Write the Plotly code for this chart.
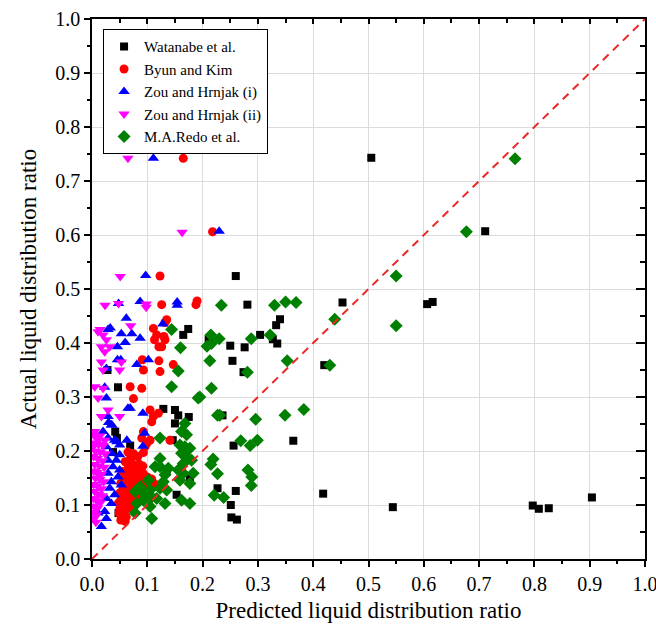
import plotly.graph_objects as go

# ---------------- data ----------------
wat_x = [0.505, 0.711, 0.606, 0.616, 0.544, 0.797, 0.808, 0.826, 0.904,
         0.26, 0.281, 0.453, 0.34, 0.333, 0.304, 0.327, 0.335, 0.25, 0.276, 0.211,
         0.254, 0.42, 0.274, 0.236, 0.364, 0.256, 0.227, 0.26, 0.418, 0.251, 0.252, 0.262,
         0.174, 0.165, 0.028, 0.047, 0.129, 0.15, 0.156, 0.175, 0.15, 0.146, 0.177, 0.153,
         0.042, 0.045, 0.069, 0.038, 0.048, 0.053, 0.135]
wat_y = [0.743, 0.607, 0.472, 0.476, 0.096, 0.099, 0.093, 0.094, 0.114,
         0.524, 0.471, 0.475, 0.444, 0.433, 0.415, 0.407, 0.399, 0.395, 0.392, 0.407,
         0.367, 0.359, 0.346, 0.266, 0.219, 0.21, 0.131, 0.126, 0.121, 0.1, 0.077, 0.073,
         0.426, 0.415, 0.35, 0.318, 0.278, 0.276, 0.266, 0.263, 0.251, 0.22, 0.149, 0.119,
         0.236, 0.224, 0.21, 0.198, 0.085, 0.079, 0.162]

byun_x = [0.165, 0.218, 0.123, 0.126, 0.19, 0.188, 0.135, 0.132, 0.111, 0.117, 0.113, 0.13,
          0.132, 0.126, 0.121, 0.091, 0.121, 0.147, 0.093, 0.123, 0.069, 0.09, 0.075, 0.105,
          0.111, 0.108, 0.12, 0.093, 0.09, 0.105, 0.141, 0.096, 0.099, 0.093,
          0.065, 0.075, 0.083, 0.07,
          0.06, 0.072, 0.085, 0.092, 0.066, 0.078,
          0.055, 0.064, 0.074, 0.083, 0.093, 0.1, 0.06, 0.07, 0.082, 0.09, 0.108,
          0.052, 0.062, 0.071, 0.08, 0.088, 0.097, 0.105, 0.056, 0.066, 0.076, 0.085, 0.094, 0.112,
          0.05, 0.06, 0.07, 0.079, 0.088, 0.098, 0.053, 0.064, 0.074, 0.084,
          0.048, 0.058, 0.068, 0.078, 0.05, 0.06, 0.072,
          0.049, 0.055, 0.062, 0.052, 0.06]
byun_y = [0.742, 0.606, 0.524, 0.471, 0.478, 0.471, 0.443, 0.438, 0.427, 0.415, 0.406, 0.412,
          0.406, 0.393, 0.393, 0.369, 0.367, 0.36, 0.35, 0.347, 0.319, 0.316, 0.297, 0.276,
          0.264, 0.254, 0.27, 0.236, 0.224, 0.22, 0.22, 0.208, 0.214, 0.197,
          0.198, 0.195, 0.19, 0.188,
          0.18, 0.178, 0.176, 0.172, 0.17, 0.168,
          0.162, 0.16, 0.158, 0.162, 0.158, 0.152, 0.15, 0.148, 0.15, 0.146, 0.148,
          0.14, 0.138, 0.136, 0.14, 0.134, 0.138, 0.132, 0.13, 0.128, 0.13, 0.126, 0.128, 0.14,
          0.122, 0.12, 0.118, 0.121, 0.116, 0.118, 0.112, 0.11, 0.108, 0.112,
          0.104, 0.1, 0.098, 0.102, 0.092, 0.09, 0.094,
          0.085, 0.08, 0.078, 0.072, 0.07]

zou1_x = [0.111, 0.23, 0.097, 0.048, 0.087, 0.154, 0.154, 0.128, 0.062, 0.033, 0.029, 0.053,
          0.072, 0.087, 0.06, 0.046, 0.046, 0.052, 0.081, 0.102, 0.026, 0.023, 0.026, 0.065,
          0.069, 0.092, 0.03, 0.036, 0.063, 0.045,
          0.029, 0.035, 0.02, 0.029, 0.041, 0.05, 0.026, 0.035, 0.05, 0.029, 0.044, 0.038,
          0.05, 0.029, 0.035, 0.047, 0.053, 0.032, 0.026, 0.041, 0.035, 0.023, 0.026, 0.011,
          0.017, 0.092, 0.095]
zou1_y = [0.742, 0.607, 0.525, 0.473, 0.477, 0.476, 0.47, 0.435, 0.446, 0.428, 0.425, 0.417,
          0.417, 0.409, 0.401, 0.393, 0.369, 0.369, 0.36, 0.369, 0.353, 0.318, 0.298, 0.279,
          0.279, 0.27, 0.253, 0.248, 0.22, 0.217,
          0.264, 0.248, 0.236, 0.224, 0.22, 0.211, 0.208, 0.196, 0.193, 0.183, 0.183, 0.171,
          0.165, 0.159, 0.143, 0.152, 0.137, 0.131, 0.112, 0.119, 0.103, 0.088, 0.075, 0.085,
          0.06, 0.209, 0.233]

zou2_x = [0.065, 0.163, 0.051, 0.0235, 0.048, 0.098, 0.098, 0.07, 0.0145,
          0.011, 0.02, 0.026, 0.017, 0.032, 0.023, 0.017, 0.02, 0.053, 0.05,
          0.005, 0.02, 0.011, 0.029, 0.017, 0.05, 0.005, 0.011, 0.023, 0.002,
          0.003, 0.008, 0.014, 0.004, 0.012, 0.02, 0.006, 0.015, 0.024, 0.003, 0.01, 0.019,
          0.005, 0.013, 0.022, 0.003, 0.009, 0.017, 0.006, 0.014, 0.021, 0.003, 0.01, 0.017,
          0.005, 0.012, 0.019, 0.003, 0.009, 0.015, 0.004, 0.01, 0.003, 0.008, 0.004, 0.007]
zou2_y = [0.742, 0.605, 0.523, 0.47, 0.473, 0.472, 0.466, 0.432, 0.425,
          0.421, 0.415, 0.406, 0.393, 0.393, 0.384, 0.365, 0.35, 0.365, 0.35,
          0.319, 0.316, 0.298, 0.276, 0.264, 0.264, 0.236, 0.22, 0.22, 0.208,
          0.23, 0.225, 0.228, 0.215, 0.212, 0.21, 0.2, 0.198, 0.195, 0.19, 0.186, 0.182,
          0.175, 0.172, 0.17, 0.163, 0.16, 0.157, 0.15, 0.147, 0.143, 0.138, 0.135, 0.13,
          0.125, 0.12, 0.117, 0.112, 0.108, 0.104, 0.098, 0.094, 0.087, 0.082, 0.075, 0.068]

redo_x = [0.765, 0.677, 0.55, 0.55, 0.234, 0.33, 0.35, 0.369, 0.439, 0.322, 0.288, 0.215,
          0.208, 0.216, 0.23, 0.353, 0.213, 0.43, 0.281, 0.216, 0.195, 0.227, 0.231, 0.296,
          0.349, 0.383, 0.269, 0.286, 0.299, 0.219, 0.215, 0.227, 0.282, 0.289, 0.288, 0.221,
          0.238, 0.144, 0.16, 0.156, 0.144, 0.192,
          0.168, 0.162, 0.171, 0.123, 0.159, 0.168, 0.177, 0.162, 0.171, 0.18, 0.165, 0.123,
          0.114, 0.123, 0.156, 0.165, 0.183, 0.138, 0.132, 0.159, 0.177, 0.129, 0.102, 0.087,
          0.105, 0.078, 0.123, 0.135, 0.096, 0.108, 0.093, 0.117, 0.081, 0.078, 0.105, 0.108,
          0.162, 0.177, 0.132]
redo_y = [0.741, 0.606, 0.524, 0.432, 0.47, 0.47, 0.476, 0.475, 0.444, 0.415, 0.408, 0.415,
          0.394, 0.399, 0.408, 0.367, 0.367, 0.359, 0.346, 0.316, 0.3, 0.266, 0.266, 0.259,
          0.266, 0.277, 0.219, 0.21, 0.22, 0.185, 0.175, 0.158, 0.165, 0.152, 0.136, 0.118,
          0.114, 0.425, 0.391, 0.348, 0.319, 0.298,
          0.251, 0.236, 0.23, 0.224, 0.211, 0.208, 0.205, 0.196, 0.189, 0.183, 0.177, 0.186,
          0.171, 0.171, 0.165, 0.159, 0.159, 0.168, 0.156, 0.146, 0.14, 0.143, 0.146, 0.134,
          0.128, 0.125, 0.131, 0.128, 0.119, 0.115, 0.109, 0.112, 0.103, 0.085, 0.097, 0.075,
          0.109, 0.103, 0.103]

diag_x = [0.0, 1.0]
diag_y = [0.0, 1.0]

series_names = ["Watanabe et al.", "Byun and Kim", "Zou and Hrnjak (i)",
                "Zou and Hrnjak (ii)", "M.A.Redo et al."]

# ---------------- figure ----------------
fig = go.Figure()
styles = [
    (wat_x, wat_y, "square", "#000000", 8),
    (byun_x, byun_y, "circle", "#ff0000", 9),
    (zou1_x, zou1_y, "triangle-up", "#0000ff", 10),
    (zou2_x, zou2_y, "triangle-down", "#ff00ff", 10),
    (redo_x, redo_y, "diamond", "#008000", 10),
]
for name, (xs, ys, sym, col, sz) in zip(series_names, styles):
    fig.add_trace(go.Scatter(x=xs, y=ys, mode="markers", name=name,
                             marker=dict(symbol=sym, color=col, size=sz,
                                         line=dict(width=0))))

fig.add_trace(go.Scatter(x=diag_x, y=diag_y, mode="lines", showlegend=False,
                         line=dict(color="#ee2626", width=2, dash="8px,6px"),
                         hoverinfo="skip"))
# carrier for the mirrored top/right axes
fig.add_trace(go.Scatter(x=[], y=[], xaxis="x2", yaxis="y2", showlegend=False))

serif = "Liberation Serif, Times New Roman, serif"
common = dict(range=[0, 1], dtick=0.1, tick0=0, tickformat=".1f",
              showline=True, linecolor="black", linewidth=1.5,
              zeroline=False, tickcolor="black", tickwidth=1.5,
              automargin=False)

fig.update_layout(
    width=656, height=635,
    margin=dict(l=92, r=11, t=19, b=76, autoexpand=False),
    plot_bgcolor="white", paper_bgcolor="white",
    font=dict(family=serif, color="black"),
    xaxis=dict(**common, ticks="outside", ticklen=6,
               showgrid=True, gridcolor="#dcdcdc", gridwidth=1,
               ticklabeloverflow="allow",
               minor=dict(dtick=0.05, ticks="outside", ticklen=3,
                          tickcolor="black", showgrid=False),
               tickfont=dict(size=20, family=serif),
               title=dict(text="Predicted liquid distribution ratio",
                          font=dict(size=23, family=serif), standoff=8)),
    yaxis=dict(**common, ticks="outside", ticklen=6,
               showgrid=True, gridcolor="#dcdcdc", gridwidth=1,
               minor=dict(dtick=0.05, ticks="outside", ticklen=3,
                          tickcolor="black", showgrid=False),
               tickfont=dict(size=20, family=serif),
               title=dict(text="Actual liquid distribution ratio",
                          font=dict(size=23, family=serif), standoff=12)),
    xaxis2=dict(**common, overlaying="x", side="top", anchor="y2",
                ticks="inside", ticklen=5, showticklabels=False, showgrid=False,
                minor=dict(dtick=0.05, ticks="inside", ticklen=4,
                           tickcolor="black", showgrid=False)),
    yaxis2=dict(**common, overlaying="y", side="right", anchor="x2",
                ticks="inside", ticklen=9, showticklabels=False, showgrid=False,
                minor=dict(dtick=0.05, ticks="inside", ticklen=5,
                           tickcolor="black", showgrid=False)),
    legend=dict(x=0.02, y=0.981, xanchor="left", yanchor="top",
                bgcolor="white", bordercolor="black", borderwidth=1,
                font=dict(size=15, family=serif), tracegroupgap=0),
    showlegend=True,
)

fig.write_html("out.html")
